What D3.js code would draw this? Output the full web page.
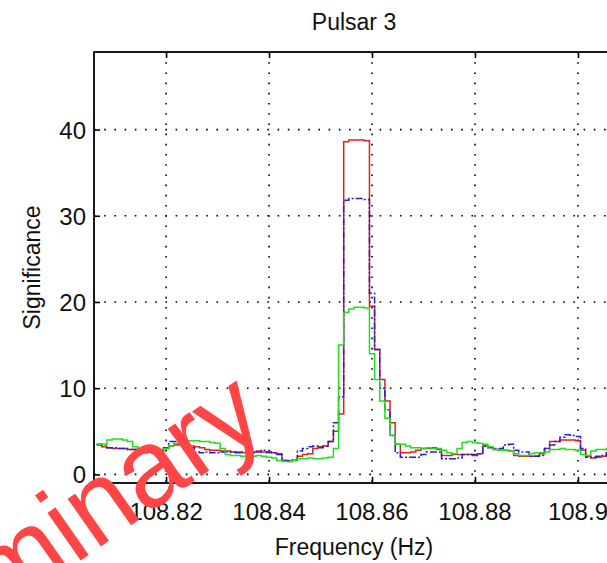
<!DOCTYPE html>
<html>
<head>
<meta charset="utf-8">
<script src="https://cdn.jsdelivr.net/npm/d3@7"></script>
<style>
  body { margin: 0; background: #fff; }
  text { font-family: "Liberation Sans", Arial, sans-serif; }
</style>
</head>
<body>
<div id="chart"></div>
<script>
// frequency grid: first bin and bin width (Hz)
var freqStart = 108.8065;
var freqStep = 0.001;

// significance per frequency bin
var redValues = [3.4, 3.2, 3.1, 3.0, 3.0, 3.0, 2.9, 2.9, 2.7, 2.5,
  2.6, 2.6, 2.7, 3.0, 3.3, 3.4, 3.5, 3.4, 3.3, 3.2,
  3.1, 2.9, 2.8, 2.8, 2.7, 2.7, 2.6, 2.6, 2.5, 2.6,
  2.6, 2.7, 2.6, 2.5, 2.5, 2.4, 1.6, 1.5, 1.6, 2.1,
  2.3, 2.4, 3.0, 3.2, 3.3, 3.8, 5.0, 7.0, 38.6, 38.8,
  38.8, 38.8, 38.7, 19.5, 14.5, 11.0, 8.5, 6.0, 3.5, 2.5,
  2.5, 2.6, 2.8, 3.0, 3.0, 3.1, 2.9, 2.2, 2.2, 2.3,
  2.3, 2.3, 2.3, 2.2, 2.4, 3.3, 3.2, 2.9, 2.8, 2.8,
  2.7, 2.2, 2.1, 2.1, 2.1, 2.1, 2.4, 3.0, 3.8, 3.8,
  4.0, 4.0, 4.0, 3.9, 2.8, 2.1, 1.9, 2.0, 2.1, 2.3, 2.4];

var blueValues = [3.5, 3.4, 3.1, 3.1, 3.0, 3.0, 2.9, 2.9, 2.7, 2.6,
  2.6, 2.7, 2.7, 3.1, 3.8, 3.8, 3.5, 3.3, 3.1, 2.6,
  2.5, 2.6, 2.5, 2.5, 2.6, 2.6, 2.6, 2.5, 2.6, 2.6,
  2.5, 2.6, 2.8, 2.6, 2.5, 2.3, 1.6, 1.6, 1.7, 2.7,
  3.0, 3.2, 3.3, 3.1, 3.3, 3.8, 6.0, 9.0, 31.8, 32.0,
  32.0, 32.0, 31.9, 21.0, 14.5, 10.0, 7.5, 4.5, 2.5, 2.0,
  2.0, 2.0, 2.0, 2.3, 2.6, 2.6, 2.6, 1.8, 1.8, 1.8,
  1.9, 2.3, 2.3, 2.3, 2.4, 3.3, 3.1, 3.0, 3.0, 3.4,
  3.5, 2.8, 2.6, 2.6, 2.1, 2.1, 2.2, 3.0, 3.4, 3.8,
  4.3, 4.6, 4.5, 4.4, 3.0, 2.0, 2.0, 2.1, 2.2, 2.5, 2.6];

var greenValues = [3.5, 3.5, 4.0, 4.1, 4.1, 4.0, 3.8, 3.2, 3.0, 2.9,
  2.8, 2.9, 2.9, 3.0, 3.3, 3.6, 3.8, 3.9, 3.9, 3.9,
  3.8, 3.8, 3.7, 3.6, 3.0, 2.3, 2.2, 2.2, 2.1, 2.2,
  2.1, 2.2, 2.1, 2.0, 1.9, 1.6, 1.5, 1.5, 1.6, 1.8,
  1.8, 1.9, 1.8, 1.8, 1.9, 2.0, 3.0, 15.0, 18.8, 19.2,
  19.4, 19.4, 19.3, 14.0, 11.0, 8.5, 6.5, 4.5, 3.5, 3.5,
  3.3, 3.1, 3.1, 3.0, 3.1, 3.0, 3.0, 2.8, 2.5, 2.4,
  3.0, 3.7, 3.8, 3.7, 3.6, 3.5, 3.2, 2.9, 2.8, 2.8,
  2.7, 2.4, 2.2, 2.2, 2.4, 2.5, 2.5, 2.6, 2.9, 2.9,
  3.0, 2.9, 2.9, 2.8, 2.3, 2.2, 2.7, 2.9, 2.9, 3.0, 3.0];

var xTicks = [108.82, 108.84, 108.86, 108.88, 108.90];
var xTickLabels = ["108.82", "108.84", "108.86", "108.88", "108.9"];
var yTicks = [0, 10, 20, 30, 40];

var width = 607, height = 563;
var margin = { top: 52, right: -7, bottom: 80, left: 94 };
var plotW = width - margin.left - margin.right;
var plotH = height - margin.top - margin.bottom;

var svg = d3.select("#chart").append("svg")
  .attr("width", width)
  .attr("height", height);

var x = d3.scaleLinear().domain([108.806, 108.907]).range([0, plotW]);
var y = d3.scaleLinear().domain([-1, 49]).range([plotH, 0]);

var g = svg.append("g")
  .attr("transform", "translate(" + margin.left + "," + margin.top + ")");

// dotted grid
g.selectAll(".vgrid")
  .data(xTicks)
  .enter()
  .append("line")
  .attr("x1", function (d) { return x(d); })
  .attr("x2", function (d) { return x(d); })
  .attr("y1", 0)
  .attr("y2", plotH)
  .attr("stroke", "#000")
  .attr("stroke-width", 1.6)
  .attr("stroke-dasharray", "1.6,8.6");

g.selectAll(".hgrid")
  .data(yTicks)
  .enter()
  .append("line")
  .attr("x1", 0)
  .attr("x2", plotW)
  .attr("y1", function (d) { return y(d); })
  .attr("y2", function (d) { return y(d); })
  .attr("stroke", "#000")
  .attr("stroke-width", 1.6)
  .attr("stroke-dasharray", "1.6,8.6");

// the three traces
function toPoints(values) {
  return values.map(function (v, i) { return [freqStart + i * freqStep, v]; });
}

var line = d3.line()
  .x(function (d) { return x(d[0]); })
  .y(function (d) { return y(d[1]); })
  .curve(d3.curveStepAfter);

var series = [
  { values: redValues, color: "#dd2222", dash: null },
  { values: blueValues, color: "#2222cc", dash: "7,2,2,2" },
  { values: greenValues, color: "#22dd22", dash: null }
];

g.selectAll(".trace")
  .data(series)
  .enter()
  .append("path")
  .attr("class", "trace")
  .attr("d", function (d) { return line(toPoints(d.values)); })
  .attr("fill", "none")
  .attr("stroke", function (d) { return d.color; })
  .attr("stroke-width", 1.5)
  .attr("stroke-dasharray", function (d) { return d.dash; });

// axes with inward ticks
var xAxisBottom = d3.axisBottom(x).tickValues(xTicks).tickSizeInner(-6).tickSizeOuter(0).tickFormat("");
var xAxisTop = d3.axisTop(x).tickValues(xTicks).tickSizeInner(-6).tickSizeOuter(0).tickFormat("");
var yAxisLeft = d3.axisLeft(y).tickValues(yTicks).tickSizeInner(-6).tickSizeOuter(0).tickFormat("");

g.append("g").attr("transform", "translate(0," + plotH + ")").call(xAxisBottom);
g.append("g").call(xAxisTop);
g.append("g").call(yAxisLeft);
g.selectAll(".domain").remove();
g.selectAll(".tick line").attr("stroke", "#000").attr("stroke-width", 1.6);

g.append("rect")
  .attr("width", plotW)
  .attr("height", plotH)
  .attr("fill", "none")
  .attr("stroke", "#000")
  .attr("stroke-width", 1.8);

// tick labels
g.selectAll(".xlabel")
  .data(xTicks)
  .enter()
  .append("text")
  .attr("x", function (d) { return x(d); })
  .attr("y", plotH + 37)
  .attr("text-anchor", "middle")
  .attr("font-size", 24)
  .attr("fill", "#111")
  .text(function (d, i) { return xTickLabels[i]; });

g.selectAll(".ylabel")
  .data(yTicks)
  .enter()
  .append("text")
  .attr("x", -8)
  .attr("y", function (d) { return y(d) + 9; })
  .attr("text-anchor", "end")
  .attr("font-size", 24)
  .attr("fill", "#111")
  .text(function (d) { return d; });

// titles
svg.append("text")
  .attr("x", margin.left + plotW / 2)
  .attr("y", 30)
  .attr("text-anchor", "middle")
  .attr("font-size", 23)
  .attr("fill", "#111")
  .text("Pulsar 3");

svg.append("text")
  .attr("x", margin.left + plotW / 2)
  .attr("y", 555)
  .attr("text-anchor", "middle")
  .attr("font-size", 23)
  .attr("fill", "#111")
  .text("Frequency (Hz)");

svg.append("text")
  .attr("transform", "translate(40," + (margin.top + plotH / 2) + ") rotate(-90)")
  .attr("text-anchor", "middle")
  .attr("font-size", 23)
  .attr("fill", "#111")
  .text("Significance");

// watermark (only the tail of the word is inside the picture)
svg.append("text")
  .attr("transform", "translate(270,428) rotate(-35)")
  .attr("text-anchor", "end")
  .attr("font-size", 110)
  .attr("fill", "#ff4545")
  .text("Preliminary");
</script>
</body>
</html>
